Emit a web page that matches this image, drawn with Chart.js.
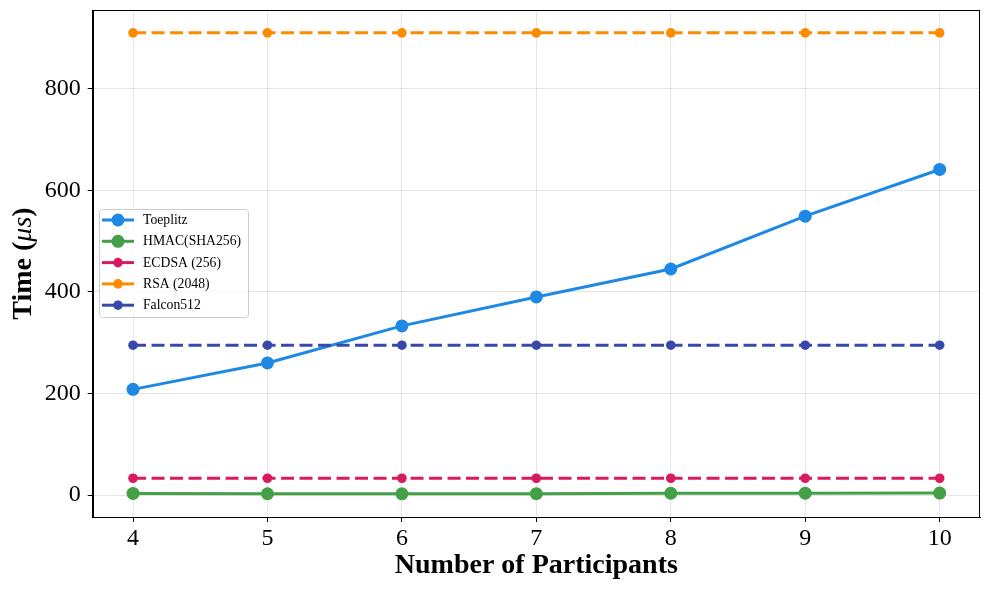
<!DOCTYPE html>
<html>
<head>
<meta charset="utf-8">
<script src="https://cdn.jsdelivr.net/npm/chart.js@4.4.1/dist/chart.umd.min.js"></script>
<style>
  html, body { margin: 0; padding: 0; background: #ffffff; }
  #wrap { width: 989px; height: 590px; position: relative; }
</style>
</head>
<body>
<div id="wrap"><canvas id="c" width="989" height="590"></canvas></div>
<script>
// ---- data ----
const participants = [4, 5, 6, 7, 8, 9, 10];
const toeplitz = [208, 260, 333, 390, 445, 549, 641];
const hmac = [3.2, 2.5, 2.3, 2.7, 3.5, 3.6, 3.8];
const ecdsa = [33, 33, 33, 33, 33, 33, 33];
const rsa = [910, 910, 910, 910, 910, 910, 910];
const falcon = [295, 295, 295, 295, 295, 295, 295];
const seriesNames = ['Toeplitz', 'HMAC(SHA256)', 'ECDSA (256)', 'RSA (2048)', 'Falcon512'];
const xTicks = [4, 5, 6, 7, 8, 9, 10];
const yTicks = [0, 200, 400, 600, 800];
const xTitle = 'Number of Participants';
const yTitleParts = ['Time (', 'μs', ')'];

const FONT = '"Liberation Serif", "Times New Roman", serif';
const colors = ['#1E88E5', '#43A047', '#D81B60', '#FB8C00', '#3949AB'];
const allValues = [toeplitz, hmac, ecdsa, rsa, falcon];
const styles = [
  { dash: [], r: 6.5, w: 3 },
  { dash: [], r: 6.5, w: 3 },
  { dash: [13, 5.5], r: 4.8, w: 3 },
  { dash: [13, 5.5], r: 4.8, w: 3 },
  { dash: [13, 5.5], r: 4.8, w: 3 }
];

const datasets = seriesNames.map((name, i) => ({
  label: name,
  data: participants.map((x, j) => ({ x: x, y: allValues[i][j] })),
  borderColor: colors[i],
  backgroundColor: colors[i],
  pointBackgroundColor: colors[i],
  pointBorderColor: colors[i],
  borderWidth: styles[i].w,
  borderDash: styles[i].dash,
  pointRadius: styles[i].r,
  pointHoverRadius: styles[i].r,
  pointBorderWidth: 0,
  tension: 0,
  fill: false,
  order: seriesNames.length - i
}));

const framePlugin = {
  id: 'frame',
  afterDraw(chart) {
    const ctx = chart.ctx;
    const a = chart.chartArea;
    ctx.save();
    ctx.strokeStyle = '#000';
    ctx.lineWidth = 1;
    ctx.strokeRect(Math.round(a.left) + 0.5, Math.round(a.top) + 0.5,
                   Math.round(a.right - a.left) - 1, Math.round(a.bottom - a.top));
    ctx.restore();

    // x title
    ctx.save();
    ctx.fillStyle = '#000';
    ctx.font = 'bold 28px ' + FONT;
    ctx.textAlign = 'center';
    ctx.textBaseline = 'alphabetic';
    ctx.fillText(xTitle, (a.left + a.right) / 2, 573);
    ctx.restore();

    // y title (mixed fonts)
    ctx.save();
    ctx.translate(31, (a.top + a.bottom) / 2);
    ctx.rotate(-Math.PI / 2);
    ctx.fillStyle = '#000';
    ctx.textBaseline = 'alphabetic';
    const fonts = ['bold 28px ' + FONT, 'italic 28px ' + FONT, 'bold 28px ' + FONT];
    let widths = yTitleParts.map((t, k) => { ctx.font = fonts[k]; return ctx.measureText(t).width; });
    const total = widths.reduce((s, v) => s + v, 0);
    let x = -total / 2;
    yTitleParts.forEach((t, k) => {
      ctx.font = fonts[k];
      ctx.textAlign = 'left';
      ctx.fillText(t, x, 0);
      x += widths[k];
    });
    ctx.restore();

    // legend
    ctx.save();
    const lx = 99.5, ly = 209.5, lw = 149, lh = 108;
    ctx.fillStyle = 'rgba(255,255,255,0.8)';
    ctx.strokeStyle = '#cccccc';
    ctx.lineWidth = 1;
    ctx.beginPath();
    if (ctx.roundRect) ctx.roundRect(lx, ly, lw, lh, 3); else ctx.rect(lx, ly, lw, lh);
    ctx.fill();
    ctx.stroke();
    ctx.font = '13.7px ' + FONT;
    ctx.textBaseline = 'middle';
    ctx.textAlign = 'left';
    chart.data.datasets.forEach((ds, i) => {
      const cy = 220 + i * 21.3;
      ctx.strokeStyle = ds.borderColor;
      ctx.lineWidth = ds.borderWidth;
      ctx.setLineDash([]);
      ctx.beginPath();
      ctx.moveTo(102, cy);
      ctx.lineTo(134, cy);
      ctx.stroke();
      ctx.fillStyle = ds.pointBackgroundColor;
      ctx.beginPath();
      ctx.arc(118, cy, ds.pointRadius, 0, Math.PI * 2);
      ctx.fill();
      ctx.fillStyle = '#000';
      ctx.fillText(ds.label, 143, cy + 0.5);
    });
    ctx.restore();
  }
};

new Chart(document.getElementById('c'), {
  type: 'line',
  data: { datasets: datasets },
  options: {
    responsive: false,
    animation: false,
    devicePixelRatio: 1,
    layout: { padding: { top: 10, right: 9, left: 0, bottom: 0 } },
    plugins: { legend: { display: false }, tooltip: { enabled: false } },
    scales: {
      x: {
        type: 'linear',
        min: 3.7,
        max: 10.3,
        afterBuildTicks(scale) { scale.ticks = xTicks.map(v => ({ value: v })); },
        afterFit(scale) { scale.height = 73; scale.paddingLeft = 0; scale.paddingRight = 0; },
        grid: { color: 'rgba(0,0,0,0.1)', lineWidth: 1, tickColor: '#000', tickLength: 5, drawTicks: true },
        border: { color: '#000', width: 1 },
        ticks: { color: '#000', font: { family: FONT, size: 24 }, padding: 2, maxRotation: 0, autoSkip: false },
        title: { display: false }
      },
      y: {
        type: 'linear',
        min: -43.3,
        max: 955,
        afterBuildTicks(scale) { scale.ticks = yTicks.map(v => ({ value: v })); },
        afterFit(scale) { scale.width = 92.7; scale.paddingTop = 0; scale.paddingBottom = 0; },
        grid: { color: 'rgba(0,0,0,0.1)', lineWidth: 1, tickColor: '#000', tickLength: 5, drawTicks: true },
        border: { color: '#000', width: 1 },
        ticks: { color: '#000', font: { family: FONT, size: 24 }, padding: 7 },
        title: { display: false }
      }
    }
  },
  plugins: [framePlugin]
});
</script>
</body>
</html>
